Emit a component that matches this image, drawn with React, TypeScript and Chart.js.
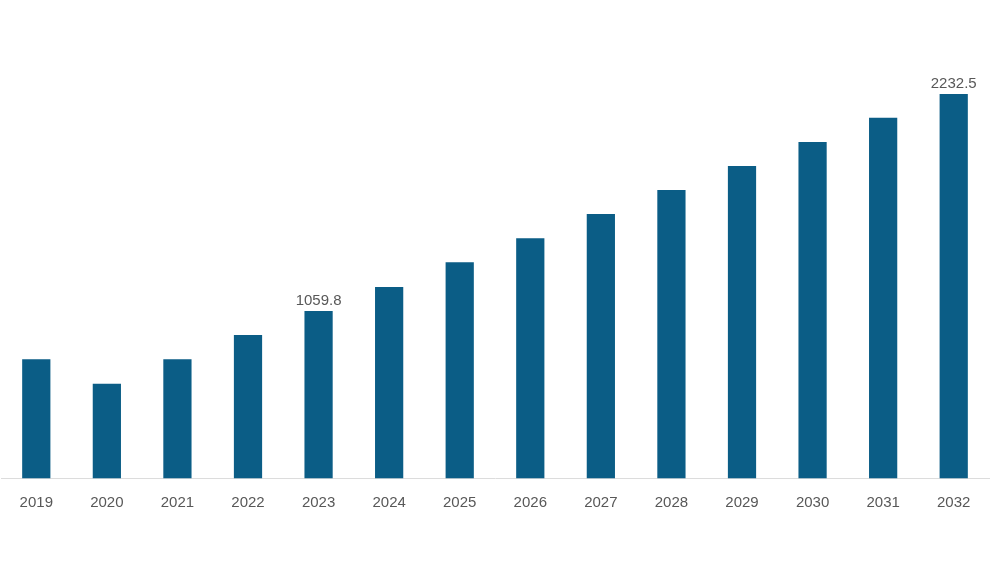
import React, { useEffect, useRef } from "react";
import { Chart, registerables } from "chart.js";

Chart.register(...registerables);

const years = ["2019", "2020", "2021", "2022", "2023", "2024", "2025", "2026", "2027", "2028", "2029", "2030", "2031", "2032"];
const marketValues = [799, 667, 799, 930, 1059.8, 1189.5, 1323, 1452.7, 1584, 1713.7, 1843.4, 1973.1, 2104.5, 2232.5];
const shownValueLabels = ["", "", "", "", "1059.8", "", "", "", "", "", "", "", "", "2232.5"];

const BAR_COLOR = "#0b5d86";
const TEXT_COLOR = "#585858";
const FONT = "'Liberation Sans', Arial, Helvetica, sans-serif";

const valueLabelPlugin = {
  id: "valueLabels",
  afterDatasetsDraw(chart: any) {
    const meta = chart.getDatasetMeta(0);
    const ctx = chart.ctx;
    ctx.save();
    ctx.font = `15px ${FONT}`;
    ctx.fillStyle = TEXT_COLOR;
    ctx.textAlign = "center";
    ctx.textBaseline = "bottom";
    meta.data.forEach((bar: any, i: number) => {
      const txt = shownValueLabels[i];
      if (txt) ctx.fillText(txt, bar.x, bar.y - 3);
    });
    ctx.restore();
  },
};

export default function App() {
  const canvasRef = useRef<HTMLCanvasElement | null>(null);

  useEffect(() => {
    if (!canvasRef.current) return;
    const chart = new Chart(canvasRef.current, {
      type: "bar",
      data: {
        labels: years,
        datasets: [
          {
            data: marketValues,
            backgroundColor: BAR_COLOR,
            borderWidth: 0,
            barPercentage: 0.8,
            categoryPercentage: 0.5,
          },
        ],
      },
      options: {
        responsive: false,
        animation: false,
        maintainAspectRatio: false,
        layout: { padding: { left: 1, right: 11, top: 60, bottom: 67.7 } },
        plugins: {
          legend: { display: false },
          tooltip: { enabled: false },
        },
        scales: {
          x: {
            grid: { display: false, drawTicks: false },
            border: { display: true, color: "#dcdcdc", width: 1 },
            ticks: {
              color: TEXT_COLOR,
              padding: 16,
              font: { family: FONT, size: 15 },
              maxRotation: 0,
            },
            afterFit: (scale: any) => {
              scale.height = 40;
            },
          },
          y: {
            display: false,
            min: 155.6,
            max: 2416.2,
            grid: { display: false },
          },
        },
      },
      plugins: [valueLabelPlugin],
    });
    return () => chart.destroy();
  }, []);

  return (
    <div style={{ position: "absolute", left: 0, top: 0, width: 1000, height: 586, background: "#fff" }}>
      <canvas ref={canvasRef} width={1000} height={586} style={{ width: 1000, height: 586 }} />
    </div>
  );
}
